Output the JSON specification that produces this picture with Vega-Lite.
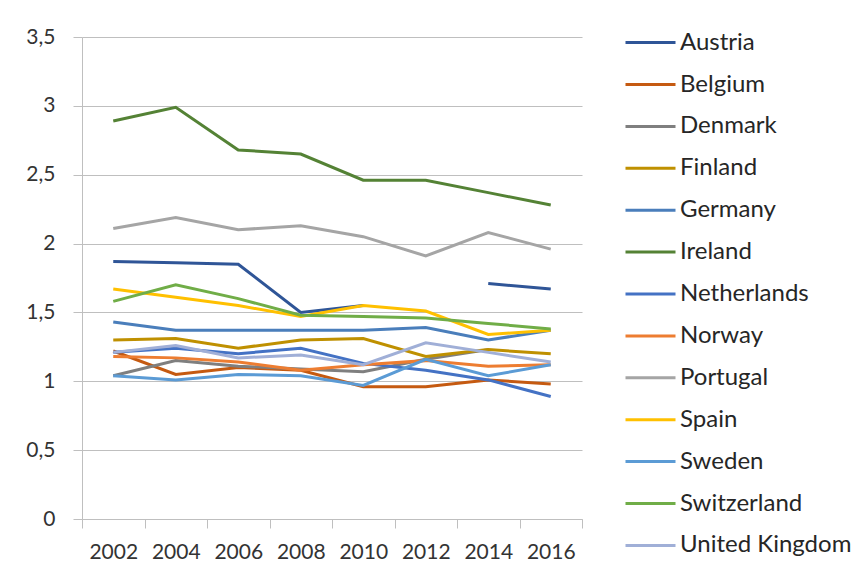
{
  "$schema": "https://vega.github.io/schema/vega-lite/v6.json",
  "width": 500,
  "height": 482,
  "autosize": {"type": "none"},
  "padding": {"left": 82, "top": 37, "right": 284, "bottom": 58},
  "background": "white",
  "config": {"font": "Lato", "view": {"stroke": null}},
  "data": {"values": [
    {"country": "Austria", "year": 2002, "value": 1.87},
    {"country": "Austria", "year": 2004, "value": 1.86},
    {"country": "Austria", "year": 2006, "value": 1.85},
    {"country": "Austria", "year": 2008, "value": 1.50},
    {"country": "Austria", "year": 2010, "value": 1.55},
    {"country": "Austria", "year": 2012, "value": null},
    {"country": "Austria", "year": 2014, "value": 1.71},
    {"country": "Austria", "year": 2016, "value": 1.67},
    {"country": "Belgium", "year": 2002, "value": 1.22},
    {"country": "Belgium", "year": 2004, "value": 1.05},
    {"country": "Belgium", "year": 2006, "value": 1.10},
    {"country": "Belgium", "year": 2008, "value": 1.08},
    {"country": "Belgium", "year": 2010, "value": 0.96},
    {"country": "Belgium", "year": 2012, "value": 0.96},
    {"country": "Belgium", "year": 2014, "value": 1.01},
    {"country": "Belgium", "year": 2016, "value": 0.98},
    {"country": "Denmark", "year": 2002, "value": 1.04},
    {"country": "Denmark", "year": 2004, "value": 1.15},
    {"country": "Denmark", "year": 2006, "value": 1.11},
    {"country": "Denmark", "year": 2008, "value": 1.09},
    {"country": "Denmark", "year": 2010, "value": 1.07},
    {"country": "Denmark", "year": 2012, "value": 1.16},
    {"country": "Denmark", "year": 2014, "value": 1.23},
    {"country": "Finland", "year": 2002, "value": 1.30},
    {"country": "Finland", "year": 2004, "value": 1.31},
    {"country": "Finland", "year": 2006, "value": 1.24},
    {"country": "Finland", "year": 2008, "value": 1.30},
    {"country": "Finland", "year": 2010, "value": 1.31},
    {"country": "Finland", "year": 2012, "value": 1.18},
    {"country": "Finland", "year": 2014, "value": 1.23},
    {"country": "Finland", "year": 2016, "value": 1.20},
    {"country": "Germany", "year": 2002, "value": 1.43},
    {"country": "Germany", "year": 2004, "value": 1.37},
    {"country": "Germany", "year": 2006, "value": 1.37},
    {"country": "Germany", "year": 2008, "value": 1.37},
    {"country": "Germany", "year": 2010, "value": 1.37},
    {"country": "Germany", "year": 2012, "value": 1.39},
    {"country": "Germany", "year": 2014, "value": 1.30},
    {"country": "Germany", "year": 2016, "value": 1.37},
    {"country": "Ireland", "year": 2002, "value": 2.89},
    {"country": "Ireland", "year": 2004, "value": 2.99},
    {"country": "Ireland", "year": 2006, "value": 2.68},
    {"country": "Ireland", "year": 2008, "value": 2.65},
    {"country": "Ireland", "year": 2010, "value": 2.46},
    {"country": "Ireland", "year": 2012, "value": 2.46},
    {"country": "Ireland", "year": 2014, "value": 2.37},
    {"country": "Ireland", "year": 2016, "value": 2.28},
    {"country": "Netherlands", "year": 2002, "value": 1.21},
    {"country": "Netherlands", "year": 2004, "value": 1.24},
    {"country": "Netherlands", "year": 2006, "value": 1.20},
    {"country": "Netherlands", "year": 2008, "value": 1.24},
    {"country": "Netherlands", "year": 2010, "value": 1.13},
    {"country": "Netherlands", "year": 2012, "value": 1.08},
    {"country": "Netherlands", "year": 2014, "value": 1.01},
    {"country": "Netherlands", "year": 2016, "value": 0.89},
    {"country": "Norway", "year": 2002, "value": 1.18},
    {"country": "Norway", "year": 2004, "value": 1.17},
    {"country": "Norway", "year": 2006, "value": 1.14},
    {"country": "Norway", "year": 2008, "value": 1.08},
    {"country": "Norway", "year": 2010, "value": 1.12},
    {"country": "Norway", "year": 2012, "value": 1.15},
    {"country": "Norway", "year": 2014, "value": 1.11},
    {"country": "Norway", "year": 2016, "value": 1.12},
    {"country": "Portugal", "year": 2002, "value": 2.11},
    {"country": "Portugal", "year": 2004, "value": 2.19},
    {"country": "Portugal", "year": 2006, "value": 2.10},
    {"country": "Portugal", "year": 2008, "value": 2.13},
    {"country": "Portugal", "year": 2010, "value": 2.05},
    {"country": "Portugal", "year": 2012, "value": 1.91},
    {"country": "Portugal", "year": 2014, "value": 2.08},
    {"country": "Portugal", "year": 2016, "value": 1.96},
    {"country": "Spain", "year": 2002, "value": 1.67},
    {"country": "Spain", "year": 2004, "value": 1.61},
    {"country": "Spain", "year": 2006, "value": 1.55},
    {"country": "Spain", "year": 2008, "value": 1.47},
    {"country": "Spain", "year": 2010, "value": 1.55},
    {"country": "Spain", "year": 2012, "value": 1.51},
    {"country": "Spain", "year": 2014, "value": 1.34},
    {"country": "Spain", "year": 2016, "value": 1.37},
    {"country": "Sweden", "year": 2002, "value": 1.04},
    {"country": "Sweden", "year": 2004, "value": 1.01},
    {"country": "Sweden", "year": 2006, "value": 1.05},
    {"country": "Sweden", "year": 2008, "value": 1.04},
    {"country": "Sweden", "year": 2010, "value": 0.97},
    {"country": "Sweden", "year": 2012, "value": 1.16},
    {"country": "Sweden", "year": 2014, "value": 1.04},
    {"country": "Sweden", "year": 2016, "value": 1.12},
    {"country": "Switzerland", "year": 2002, "value": 1.58},
    {"country": "Switzerland", "year": 2004, "value": 1.70},
    {"country": "Switzerland", "year": 2006, "value": 1.60},
    {"country": "Switzerland", "year": 2008, "value": 1.48},
    {"country": "Switzerland", "year": 2010, "value": 1.47},
    {"country": "Switzerland", "year": 2012, "value": 1.46},
    {"country": "Switzerland", "year": 2014, "value": 1.42},
    {"country": "Switzerland", "year": 2016, "value": 1.38},
    {"country": "United Kingdom", "year": 2002, "value": 1.21},
    {"country": "United Kingdom", "year": 2004, "value": 1.26},
    {"country": "United Kingdom", "year": 2006, "value": 1.17},
    {"country": "United Kingdom", "year": 2008, "value": 1.19},
    {"country": "United Kingdom", "year": 2010, "value": 1.12},
    {"country": "United Kingdom", "year": 2012, "value": 1.28},
    {"country": "United Kingdom", "year": 2014, "value": 1.21},
    {"country": "United Kingdom", "year": 2016, "value": 1.14}
  ]},
  "mark": {"type": "line", "strokeWidth": 3, "invalid": "break-paths-show-domains"},
  "encoding": {
    "x": {
      "field": "year",
      "type": "quantitative",
      "scale": {"domain": [2001, 2017], "nice": false, "zero": false},
      "axis": {
        "title": null,
        "values": [2001, 2003, 2005, 2007, 2009, 2011, 2013, 2015, 2017],
        "labelExpr": "datum.value < 2017 ? '' + (datum.value + 1) : ''",
        "labelOffset": 31.25,
        "labelFlush": false,
        "labelOverlap": false,
        "grid": false,
        "domainColor": "#BFBFBF",
        "tickColor": "#BFBFBF",
        "tickSize": 9,
        "labelPadding": 13,
        "labelFont": "Lato",
        "labelFontSize": 21,
        "labelColor": "#333333"
      }
    },
    "y": {
      "field": "value",
      "type": "quantitative",
      "scale": {"domain": [0, 3.5], "nice": false},
      "axis": {
        "title": null,
        "values": [0, 0.5, 1, 1.5, 2, 2.5, 3, 3.5],
        "labelExpr": "replace(format(datum.value, '.1~f'), '.', ',')",
        "grid": true,
        "gridColor": "#BFBFBF",
        "domainColor": "#BFBFBF",
        "tickColor": "#BFBFBF",
        "tickSize": 9,
        "labelPadding": 18,
        "labelFont": "Lato",
        "labelFontSize": 21,
        "labelColor": "#333333"
      }
    },
    "color": {
      "field": "country",
      "type": "nominal",
      "scale": {
        "domain": ["Austria", "Belgium", "Denmark", "Finland", "Germany", "Ireland", "Netherlands", "Norway", "Portugal", "Spain", "Sweden", "Switzerland", "United Kingdom"],
        "range": ["#2F5597", "#C55A11", "#7F7F7F", "#BF9000", "#4A7EBB", "#548235", "#4472C4", "#ED7D31", "#A5A5A5", "#FFC000", "#5B9BD5", "#70AD47", "#A0AFD7"]
      },
      "legend": {
        "title": null,
        "orient": "none",
        "legendX": 554.5,
        "legendY": -8.4,
        "padding": 0,
        "symbolType": "M-2,0H2",
        "symbolSize": 625,
        "symbolStrokeWidth": 3,
        "labelOffset": 15.5,
        "rowPadding": 15.9,
        "labelLimit": 300,
        "labelFont": "Lato",
        "labelFontSize": 24,
        "labelColor": "#262626"
      }
    }
  }
}
